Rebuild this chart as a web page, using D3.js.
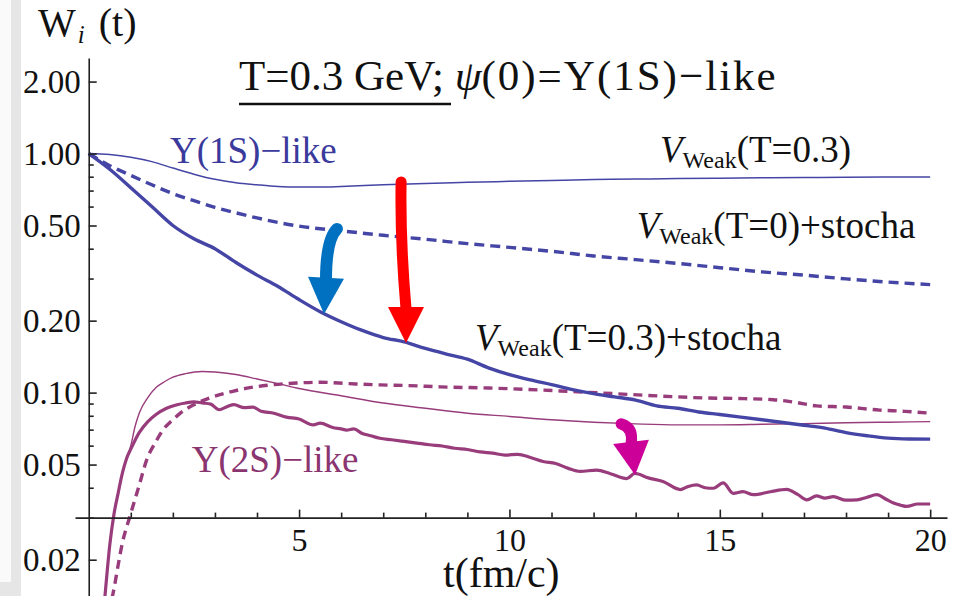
<!DOCTYPE html>
<html><head><meta charset="utf-8">
<script src="https://cdn.jsdelivr.net/npm/d3@7"></script>
<style>body{margin:0;background:#fff}svg{display:block}text{font-family:"Liberation Serif","Times New Roman",serif}</style>
</head><body><svg id="c" width="956" height="596"></svg>
<script>
// ---- data (t in fm/c, W_i(t)) ----
const t1sWeak = [0,0.5,1,1.5,2,2.5,3,3.5,4,4.5,5,5.5,6,7,8,9,10,11,12,13,14,15,16,17,18,19,20];
const w1sWeak = [1.0,0.99,0.965,0.925,0.87,0.82,0.78,0.755,0.74,0.728,0.724,0.724,0.728,0.74,0.75,0.758,0.765,0.772,0.778,0.782,0.786,0.789,0.792,0.794,0.796,0.797,0.798];

const t1sT0 = [0,0.5,1,1.5,2,2.5,3,3.5,4,4.5,5,6,7,8,9,10,11,12,13,14,15,16,17,18,19,20];
const w1sT0 = [1.0,0.89,0.81,0.74,0.68,0.635,0.595,0.565,0.538,0.515,0.497,0.475,0.455,0.438,0.42,0.405,0.39,0.373,0.36,0.347,0.333,0.32,0.31,0.299,0.29,0.283];

const t1sStoch = [0,0.5,1,1.5,2,2.5,3,3.5,4,4.5,5,5.5,6,6.5,7,7.5,8,8.5,9,9.5,10,10.5,11,11.5,12,12.5,13,13.5,14,14.5,15,15.5,16,16.5,17,17.5,18,18.5,19,19.5,20];
const w1sStoch = [1.0,0.86,0.72,0.60,0.50,0.44,0.40,0.35,0.31,0.278,0.245,0.218,0.198,0.182,0.17,0.163,0.153,0.145,0.138,0.127,0.119,0.113,0.108,0.103,0.099,0.096,0.093,0.088,0.086,0.083,0.081,0.079,0.077,0.075,0.073,0.071,0.068,0.066,0.0645,0.064,0.0639];

const t2sWeak = [0.3,0.4,0.5,0.6,0.7,0.8,0.9,1.0,1.1,1.2,1.4,1.6,1.8,2.0,2.3,2.7,3.0,3.5,4,4.5,5,6,7,8,9,10,11,12,13,14,15,16,17,18,19,20];
const w2sWeak = [0.0095,0.015,0.023,0.031,0.038,0.046,0.053,0.060,0.072,0.082,0.095,0.105,0.111,0.116,0.120,0.1225,0.122,0.119,0.114,0.109,0.104,0.097,0.0905,0.086,0.082,0.0795,0.077,0.0752,0.074,0.0733,0.0733,0.0737,0.0742,0.0748,0.0752,0.0756];

const t2sStoch = [0.3,0.4,0.5,0.6,0.7,0.8,0.9,1.0,1.2,1.4,1.6,1.85,2.1,2.3,2.5,2.7,2.9,3.1,3.3,3.45,3.7,3.9,4.1,4.4,4.7,5.0,5.34,5.5,5.8,6.0,6.13,6.3,6.5,6.7,6.92,7.2,7.5,7.8,8.1,8.4,8.7,9.0,9.3,9.6,9.9,10.2,10.5,10.8,11.1,11.4,11.68,12.07,12.4,12.79,12.98,13.3,13.65,14.06,14.25,14.45,14.65,14.85,15.08,15.32,15.55,15.8,16.2,16.59,16.85,17.07,17.3,17.5,17.7,18.0,18.26,18.5,18.73,18.95,19.13,19.3,19.44,19.7,20];
const w2sStoch = [0.0095,0.015,0.023,0.031,0.038,0.046,0.053,0.058,0.068,0.0755,0.081,0.086,0.089,0.0905,0.0915,0.0905,0.0895,0.0848,0.0875,0.089,0.0865,0.087,0.0835,0.082,0.079,0.0775,0.0733,0.0745,0.0715,0.0705,0.0697,0.0705,0.0675,0.066,0.0644,0.0635,0.0625,0.0615,0.0605,0.0598,0.0585,0.0578,0.0565,0.0558,0.0548,0.0552,0.0535,0.0515,0.0505,0.0482,0.0468,0.0474,0.0458,0.0437,0.0459,0.0440,0.0425,0.0393,0.0405,0.0411,0.0400,0.0398,0.0419,0.0379,0.0385,0.0374,0.0385,0.0394,0.0375,0.0356,0.0370,0.0362,0.0367,0.0355,0.0356,0.0365,0.0374,0.0358,0.0345,0.0338,0.0334,0.0342,0.0342];

const t2sT0 = [0.45,0.58,0.7,0.8,0.98,1.2,1.38,1.6,1.77,2.0,2.17,2.5,2.96,3.4,3.76,4.3,4.94,5.5,6.2,6.92,7.6,8.35,9.5,10.73,11.5,12.5,13.2,13.89,14.6,15.4,16.27,16.8,17.3,18.0,18.8,19.4,20];
const w2sT0 = [0.012,0.0145,0.019,0.0235,0.0304,0.041,0.0524,0.0625,0.070,0.077,0.0819,0.089,0.0961,0.101,0.1044,0.1075,0.1097,0.1105,0.109,0.1077,0.107,0.1057,0.1045,0.1026,0.101,0.099,0.0975,0.0962,0.095,0.0945,0.0934,0.091,0.088,0.087,0.0845,0.0835,0.082];

const yMajorTicks = [2,1,0.5,0.2,0.1,0.05,0.02];
const yMinorTicks = [0.9,0.8,0.7,0.6,0.4,0.3,0.09,0.08,0.07,0.06,0.04,0.03];
const xMajorTicks = [5,10,15,20];
const xMinorTicks = [1,2,3,4,6,7,8,9,11,12,13,14,16,17,18,19];

// arrows: [start, control, head base, tip] in (t, W) units
const arrowBlue = [[5.90,0.484],[5.64,0.435],[5.64,0.302],[5.593,0.2134]];
const arrowRed = [[7.425,0.761],[7.40,0.435],[7.542,0.228],[7.542,0.1614]];
const arrowMag = [[12.653,0.074],[12.962,0.0712],[12.89,0.0622],[12.986,0.0452]];

// ---- drawing ----
const svg = d3.select("#c");
const x = d3.scaleLinear().domain([-0.326, 20.4]).range([75, 947]);
const y = d3.scaleLog().domain([0.0141, 2.51]).range([596, 58]);

// left frame band
svg.append("rect").attr("x",0).attr("y",0).attr("width",21).attr("height",596).attr("fill","#e6e6e6");
svg.append("rect").attr("x",0).attr("y",0).attr("width",11).attr("height",582).attr("fill","#fafafa");

const BLUE = "#4545a6", MAG = "#983c7b";
const line = d3.line().x(d=>x(d[0])).y(d=>y(d[1])).curve(d3.curveMonotoneX);
function series(ts, ws, color, width, dash){
  svg.append("path").datum(ts.map((t,i)=>[t,ws[i]]))
    .attr("d", line).attr("fill","none").attr("stroke",color)
    .attr("stroke-width",width).attr("stroke-dasharray",dash||null)
    .attr("stroke-linejoin","round");
}
series(t2sWeak, w2sWeak, MAG, 1.4);
series(t2sT0, w2sT0, MAG, 3.4, "9,6");
series(t2sStoch, w2sStoch, MAG, 3.2);
series(t1sWeak, w1sWeak, BLUE, 1.5);
series(t1sT0, w1sT0, BLUE, 3.4, "10,6");
series(t1sStoch, w1sStoch, BLUE, 3.4);

// axes
const AX = "#222";
const yAx = svg.append("g").attr("transform",`translate(${x(0)},0)`)
  .call(d3.axisLeft(y).tickValues(yMajorTicks).tickFormat(d3.format(".2f")).tickSizeInner(-8).tickSizeOuter(0).tickPadding(8));
svg.append("g").attr("transform",`translate(${x(0)},0)`)
  .call(d3.axisLeft(y).tickValues(yMinorTicks).tickFormat("").tickSizeInner(-5).tickSizeOuter(0))
  .select(".domain").remove();
const xAx = svg.append("g").attr("transform",`translate(0,${y(0.03)})`)
  .call(d3.axisBottom(x).tickValues(xMajorTicks).tickFormat(d3.format("d")).tickSizeInner(-8).tickSizeOuter(0).tickPadding(11));
svg.append("g").attr("transform",`translate(0,${y(0.03)})`)
  .call(d3.axisBottom(x).tickValues(xMinorTicks).tickFormat("").tickSizeInner(-5).tickSizeOuter(0))
  .select(".domain").remove();
svg.selectAll(".tick line, .domain").attr("stroke",AX).attr("stroke-width",1.6);
svg.selectAll(".tick text").attr("font-family","Liberation Serif").attr("font-size",33).attr("fill","#111");
xAx.selectAll(".tick text").attr("font-size",32);
yAx.selectAll(".tick text").attr("dy","0.33em");

// arrows
function arrow(a, color, w){
  const p = a.map(d=>[x(d[0]),y(d[1])]);
  svg.append("path").attr("d",`M${p[0][0]},${p[0][1]}Q${p[1][0]},${p[1][1]} ${p[2][0]},${p[2][1]+2}`)
    .attr("fill","none").attr("stroke",color).attr("stroke-width",w).attr("stroke-linecap","round");
  const dx = p[3][0]-p[2][0], dy = p[3][1]-p[2][1], L = Math.hypot(dx,dy);
  const nx = -dy/L*18, ny = dx/L*18;
  svg.append("path").attr("d",`M${p[2][0]+nx},${p[2][1]+ny}L${p[2][0]-nx},${p[2][1]-ny}L${p[3][0]},${p[3][1]}Z`).attr("fill",color);
}
arrow(arrowBlue, "#0070c0", 12);
arrow(arrowRed, "#ff0000", 11);
arrow(arrowMag, "#cc0099", 11);

// texts
const T = svg.append("g").attr("fill","#111");
const wl = T.append("text").attr("x",38).attr("y",36).attr("font-size",40);
wl.append("tspan").text("W");
wl.append("tspan").attr("font-style","italic").attr("font-size",25).attr("dy",7).attr("dx",2).text("i");
wl.append("tspan").attr("dy",-7).attr("dx",4).text(" (t)");

const title = T.append("text").attr("x",239).attr("y",90).attr("font-size",43);
title.append("tspan").text("T=0.3 GeV; ");
title.append("tspan").attr("font-style","italic").text("ψ");
title.append("tspan").attr("letter-spacing",2).text("(0)=Υ(1S)−like");
svg.append("line").attr("x1",239).attr("x2",451).attr("y1",104).attr("y2",104).attr("stroke","#111").attr("stroke-width",2.4);

function vlabel(xp, yp, rest){
  const t = T.append("text").attr("x",xp).attr("y",yp).attr("font-size",37);
  t.append("tspan").attr("font-style","italic").text("V");
  t.append("tspan").attr("font-size",24).attr("dy",6).text("Weak");
  t.append("tspan").attr("dy",-6).text(rest);
}
vlabel(660,161.7,"(T=0.3)");
vlabel(636.7,238.3,"(T=0)+stocha");
vlabel(475,350,"(T=0.3)+stocha");

svg.append("text").attr("x",170).attr("y",163).attr("font-size",37).attr("fill","#3a3a9c").text("Υ(1S)−like");
svg.append("text").attr("x",191.7).attr("y",471.7).attr("font-size",37).attr("fill","#8a3570").text("Υ(2S)−like");
svg.append("text").attr("x",443).attr("y",587).attr("font-size",42).attr("fill","#111").text("t(fm/c)");
</script></body></html>
